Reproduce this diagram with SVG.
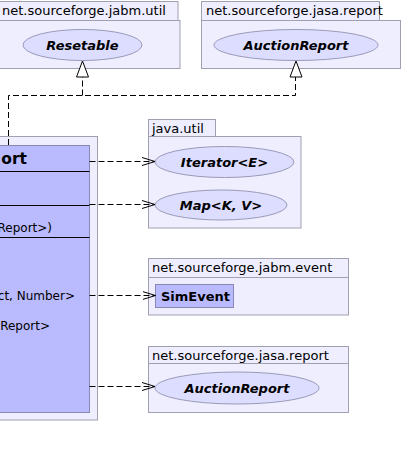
<svg xmlns="http://www.w3.org/2000/svg" width="404" height="458" viewBox="0 0 404 458">
<defs>
<style>
.pkg{fill:#eeeeff;stroke:#a0a0b0;stroke-width:1}
.ell{fill:#ddddff;stroke:#9a9ab8;stroke-width:1}
.cls{fill:#babaff;stroke:#8888b0;stroke-width:1}
.sep{stroke:#000;stroke-width:1}
.plabel{font-family:"DejaVu Sans",sans-serif;font-size:13px;fill:#000}
.elabel{font-family:"DejaVu Sans",sans-serif;font-size:13px;font-weight:bold;font-style:italic;fill:#000;text-anchor:middle}
.ctext{font-family:"DejaVu Sans",sans-serif;font-size:12px;fill:#000;text-anchor:end}
.dep{fill:none;stroke:#000;stroke-width:1;stroke-dasharray:6,3}
.real{fill:none;stroke:#000;stroke-width:1;stroke-dasharray:6,3}
</style>
<marker id="open" markerWidth="14" markerHeight="10" refX="13" refY="5" orient="auto" markerUnits="userSpaceOnUse">
<path d="M0,1 L13,5 L0,9" fill="none" stroke="#000" stroke-width="1"/>
</marker>
</defs>

<g id="pkg-jabm-util">
<rect class="pkg" x="-5" y="1.5" width="183" height="19"/>
<rect class="pkg" x="-5" y="20.5" width="185" height="48"/>
<text class="plabel" x="2" y="15">net.sourceforge.jabm.util</text>
</g>
<g id="Resetable">
<ellipse class="ell" cx="82.5" cy="45" rx="59.5" ry="15.5"/>
<text class="elabel" x="82.5" y="49.5">Resetable</text>
</g>

<g id="pkg-jasa-report-top">
<rect class="pkg" x="201.5" y="1.5" width="178" height="19"/>
<rect class="pkg" x="201.5" y="20.5" width="199" height="48"/>
<text class="plabel" x="206" y="15">net.sourceforge.jasa.report</text>
</g>
<g id="AuctionReport-top">
<ellipse class="ell" cx="296" cy="45" rx="82" ry="15.5"/>
<text class="elabel" x="296" y="49.5">AuctionReport</text>
</g>

<g id="pkg-main">
<rect class="pkg" x="-10" y="136.5" width="107.5" height="283.5"/>
</g>
<g id="MainClass">
<rect class="cls" x="-10" y="145.5" width="99.5" height="267"/>
<line class="sep" x1="-10" y1="171.5" x2="89.5" y2="171.5"/>
<line class="sep" x1="-10" y1="205.5" x2="89.5" y2="205.5"/>
<line class="sep" x1="-10" y1="237.5" x2="89.5" y2="237.5"/>
<text x="27" y="163.5" font-family="DejaVu Sans,sans-serif" font-size="15.5" font-weight="bold" text-anchor="end">ort</text>
<text class="ctext" x="52" y="232">Report&gt;)</text>
<text class="ctext" x="75" y="299.5">ct, Number&gt;</text>
<text class="ctext" x="50" y="330">Report&gt;</text>
</g>

<g id="pkg-java-util">
<rect class="pkg" x="148.5" y="119.5" width="67" height="17"/>
<rect class="pkg" x="148.5" y="136.5" width="152.5" height="91.5"/>
<text class="plabel" x="152" y="132.5">java.util</text>
</g>
<g id="Iterator">
<ellipse class="ell" cx="224.5" cy="162" rx="69.5" ry="15.5"/>
<text class="elabel" x="224.5" y="166.5">Iterator&lt;E&gt;</text>
</g>
<g id="Map">
<ellipse class="ell" cx="221" cy="205" rx="66" ry="15"/>
<text class="elabel" x="221" y="209.5">Map&lt;K, V&gt;</text>
</g>

<g id="pkg-jabm-event">
<rect class="pkg" x="148.5" y="258.5" width="200" height="19"/>
<rect class="pkg" x="148.5" y="277.5" width="200" height="37.5"/>
<text class="plabel" x="152" y="272">net.sourceforge.jabm.event</text>
</g>
<g id="SimEvent">
<rect class="cls" x="155.5" y="284.5" width="78" height="23"/>
<text x="161" y="300.5" font-family="DejaVu Sans,sans-serif" font-size="13" font-weight="bold">SimEvent</text>
</g>

<g id="pkg-jasa-report-bottom">
<rect class="pkg" x="148.5" y="346.5" width="200" height="17"/>
<rect class="pkg" x="148.5" y="363.5" width="200" height="49"/>
<text class="plabel" x="152" y="359.5">net.sourceforge.jasa.report</text>
</g>
<g id="AuctionReport-bottom">
<ellipse class="ell" cx="237" cy="388" rx="82" ry="16"/>
<text class="elabel" x="237" y="392.5">AuctionReport</text>
</g>

<g id="connectors">
<path class="real" d="M8.5,145 V95.5 H295.5 V77"/>
<path class="real" d="M82.5,95.5 V77"/>
<path d="M82.5,61 L76.5,77 L88.5,77 Z" fill="#fff" stroke="#000" stroke-width="1"/>
<path d="M296,61 L290,77 L302,77 Z" fill="#fff" stroke="#000" stroke-width="1"/>
<path class="dep" d="M89.5,161.5 H155" marker-end="url(#open)"/>
<path class="dep" d="M89.5,204.5 H155" marker-end="url(#open)"/>
<path class="dep" d="M89.5,295.5 H155.5" marker-end="url(#open)"/>
<path class="dep" d="M89.5,386.5 H155" marker-end="url(#open)"/>
</g>
</svg>
